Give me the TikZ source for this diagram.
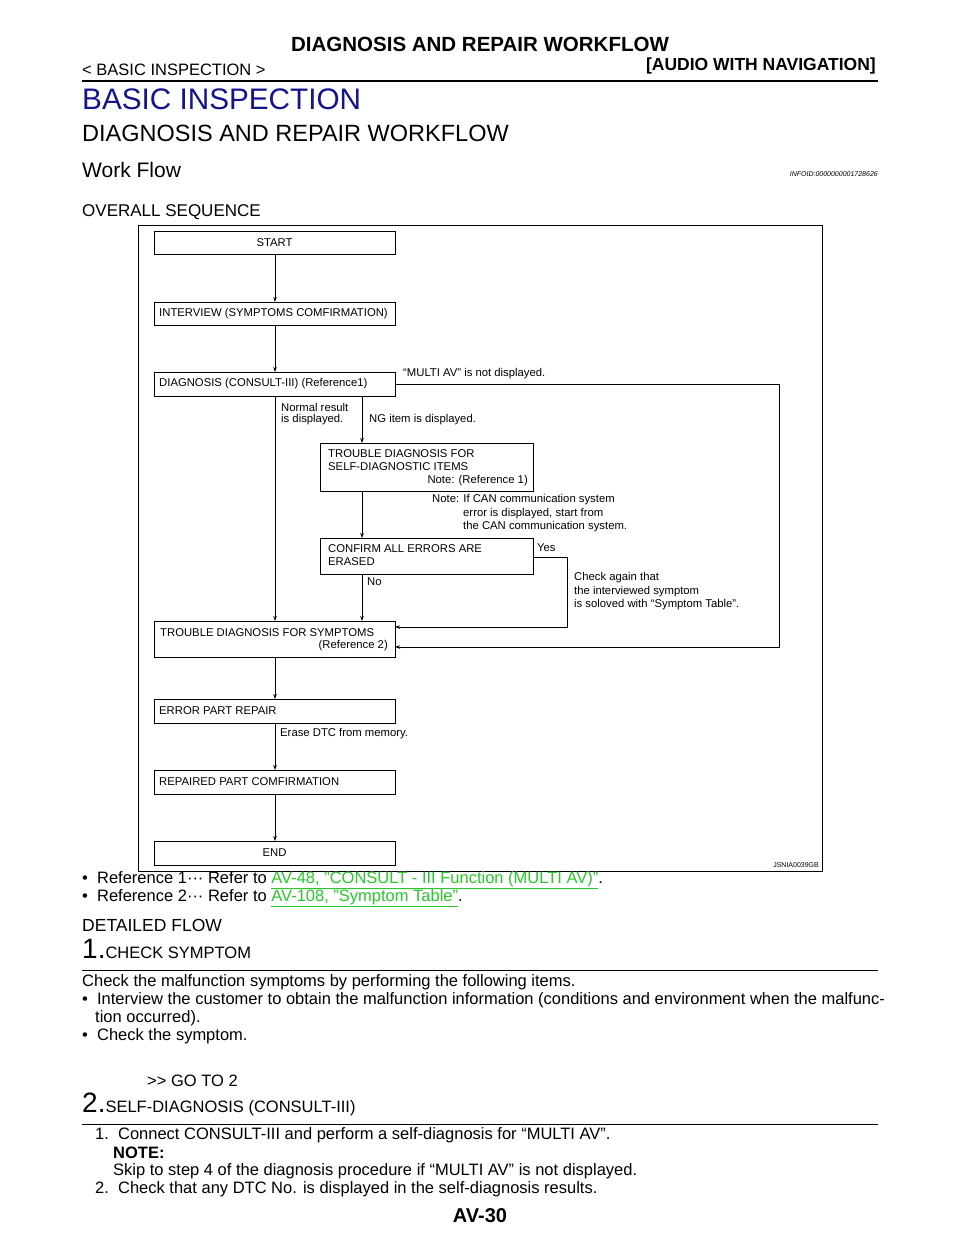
\documentclass[tikz,border=0pt]{standalone}
\usepackage{fontspec}
\setmainfont{Liberation Sans}
\usetikzlibrary{arrows.meta}
\definecolor{navy}{RGB}{20,20,140}
\definecolor{lnk}{RGB}{40,200,40}
\newcommand{\fs}[1]{\fontsize{#1}{#1}\selectfont}
\begin{document}
\begin{tikzpicture}[x=1pt,y=-1pt,
  txt/.style={anchor=west,inner sep=0pt},
  box/.style={draw,line width=0.8pt,inner sep=0pt},
  btxt/.style={anchor=west,inner sep=0pt,font=\fs{11.3}},
  arr/.style={line width=0.8pt,-{Stealth[length=5pt,width=3.5pt]}},
  ln/.style={line width=0.8pt}]
\useasboundingbox (0,0) rectangle (960,1242);
% header
\node[font=\fs{20.5}\bfseries,inner sep=0pt] (h1) at (480,44) {DIAGNOSIS AND REPAIR WORKFLOW};
\node[txt,font=\fs{16.5}] (h2) at (82,70) {< BASIC INSPECTION >};
\node[anchor=east,inner sep=0pt,font=\fs{17.5}\bfseries] (h3) at (876,66) {[AUDIO WITH NAVIGATION]};
\draw[line width=2.5pt] (82,81) -- (878,81);
\node[txt,font=\fs{29.7},text=navy] (t1) at (82,99) {BASIC INSPECTION};
\node[txt,font=\fs{23.5}] (t2) at (82,133) {DIAGNOSIS AND REPAIR WORKFLOW};
\node[txt,font=\fs{21}] (t3) at (82,170) {Work Flow};
\node[anchor=east,inner sep=0pt,font=\fs{7}\itshape] (info) at (878,174) {INFOID:0000000001728626};
\node[txt,font=\fs{17}] (t4) at (82,212) {OVERALL SEQUENCE};
% frame
\draw[line width=1pt] (138,225) rectangle (822,871);
% boxes
\draw[box] (154,231) rectangle (395,254); \node[inner sep=0pt,font=\fs{11.3}] (start) at (274.5,242.5) {START};
\draw[box] (154,302) rectangle (395,325); \node[btxt] (iv) at (159,313.5) {INTERVIEW (SYMPTOMS COMFIRMATION)};
\draw[box] (154,372) rectangle (395,396); \node[btxt] (dg) at (159,384) {DIAGNOSIS (CONSULT-III) (Reference1)};
\draw[box] (320,443) rectangle (533,491);
\node[btxt] (sd) at (328,454) {TROUBLE DIAGNOSIS FOR};
\node[btxt] (sd2) at (328,467) {SELF-DIAGNOSTIC ITEMS};
\node[anchor=east,inner sep=0pt,font=\fs{11.3}] (sd3) at (528,481) {Note: (Reference 1)};
\draw[box] (320,538) rectangle (533,574);
\node[btxt] (cf) at (328,549) {CONFIRM ALL ERRORS ARE};
\node[btxt] (cf2) at (328,562) {ERASED};
\draw[box] (154,621) rectangle (395,657);
\node[btxt] (sy) at (160,633) {TROUBLE DIAGNOSIS FOR SYMPTOMS};
\node[anchor=east,inner sep=0pt,font=\fs{11.3}] (sy2) at (388,646) {(Reference 2)};
\draw[box] (154,699) rectangle (395,723); \node[btxt] (ep) at (159,711) {ERROR PART REPAIR};
\draw[box] (154,770) rectangle (395,794); \node[btxt] (rp) at (159,782) {REPAIRED PART COMFIRMATION};
\draw[box] (154,841) rectangle (395,865); \node[inner sep=0pt,font=\fs{11.3}] (en) at (274.5,853) {END};
% connectors
\draw[arr] (275,254) -- (275,302);
\draw[arr] (275,325) -- (275,372);
\draw[arr] (275,396) -- (275,621);
\draw[arr] (362,396) -- (362,443);
\draw[arr] (362,491) -- (362,538);
\draw[arr] (362,574) -- (362,621);
\draw[arr] (533,557) -- (567,557) -- (567,627) -- (395,627);
\draw[arr] (395,384) -- (779,384) -- (779,647) -- (395,647);
\draw[arr] (275,657) -- (275,699);
\draw[arr] (275,723) -- (275,770);
\draw[arr] (275,794) -- (275,841);
% labels
\node[btxt] (l1) at (403,374) {“MULTI AV” is not displayed.};
\node[btxt] (l2) at (281,407) {Normal result};
\node[btxt] (l3) at (281,420) {is displayed.};
\node[btxt] (l4) at (369,420) {NG item is displayed.};
\node[btxt] (n1) at (432,500) {Note: If CAN communication system};
\node[btxt] (n2) at (463,514) {error is displayed, start from};
\node[btxt] (n3) at (463,527) {the CAN communication system.};
\node[btxt] (ys) at (537,548) {Yes};
\node[btxt] (no) at (367,582) {No};
\node[btxt] (c1) at (574,578) {Check again that};
\node[btxt] (c2) at (574,592) {the interviewed symptom};
\node[btxt] (c3) at (574,605) {is soloved with “Symptom Table”.};
\node[btxt] (er) at (280,734) {Erase DTC from memory.};
\node[anchor=east,inner sep=0pt,font=\fs{7}] (js) at (819,865) {JSNIA0039GB};
% text below
\node[txt,font=\fs{16.5}] (r1) at (82,880) {•\ \ Reference 1··· Refer to \textcolor{lnk}{\underline{AV-48, "CONSULT - III Function (MULTI AV)"}}.};
\node[txt,font=\fs{16.5}] (r2) at (82,898) {•\ \ Reference 2··· Refer to \textcolor{lnk}{\underline{AV-108, "Symptom Table"}}.};
\node[txt,font=\fs{17.5}] (df) at (82,925) {DETAILED FLOW};
\node[anchor=base west,inner sep=0pt] (s1) at (82,958) {\fs{28}1.\fs{16.5}CHECK SYMPTOM};
\draw[line width=0.8pt] (82,970) -- (878,970);
\node[txt,font=\fs{16.5}] (p1) at (82,982) {Check the malfunction symptoms by performing the following items.};
\node[txt,font=\fs{16.5}] (p2) at (82,1000) {•\ \ Interview the customer to obtain the malfunction information (conditions and environment when the malfunc-};
\node[txt,font=\fs{16.5}] (p3) at (95,1018) {tion occurred).};
\node[txt,font=\fs{16.5}] (p4) at (82,1036) {•\ \ Check the symptom.};
\node[txt,font=\fs{16.5}] (p5) at (147,1081) {{>}{>} GO TO 2};
\node[anchor=base west,inner sep=0pt] (s2) at (82,1112) {\fs{28}2.\fs{16.5}SELF-DIAGNOSIS (CONSULT-III)};
\draw[line width=0.8pt] (82,1124) -- (878,1124);
\node[txt,font=\fs{16.5}] (q1) at (95,1135) {1.\ \ Connect CONSULT-III and perform a self-diagnosis for “MULTI AV”.};
\node[txt,font=\fs{16.5}\bfseries] (q2) at (113,1153) {NOTE:};
\node[txt,font=\fs{16.5}] (q3) at (113,1171) {Skip to step 4 of the diagnosis procedure if “MULTI AV” is not displayed.};
\node[txt,font=\fs{16.5}] (q4) at (95,1189) {2.\ \ Check that any DTC No. is displayed in the self-diagnosis results.};
\node[inner sep=0pt,font=\fs{20}\bfseries] (pg) at (480,1216) {AV-30};
\end{tikzpicture}
\end{document}
